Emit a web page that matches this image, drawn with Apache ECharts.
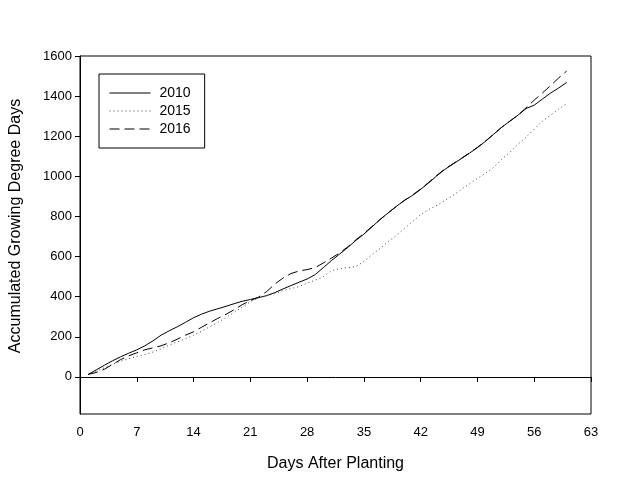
<!DOCTYPE html>
<html>
<head>
<meta charset="utf-8">
<script src="https://cdn.jsdelivr.net/npm/echarts@6/dist/echarts.min.js"></script>
<style>html,body{margin:0;padding:0;background:#fff;}#c{width:640px;height:478px;}</style>
</head>
<body>
<div id="c"></div>
<script>
var days = [];
for (var d = 1; d <= 60; d++) days.push(d);
var xTicks = [0, 7, 14, 21, 28, 35, 42, 49, 56, 63];
var yTicks = [0, 200, 400, 600, 800, 1000, 1200, 1400, 1600];
var names = ['2010', '2015', '2016'];
var gdd2010 = [12,35,58,80,100,118,135,155,180,208,230,250,272,295,313,328,340,352,365,377,386,395,405,420,438,455,472,488,510,545,580,612,645,680,712,748,785,818,850,880,905,935,968,1003,1035,1062,1088,1115,1143,1175,1210,1245,1275,1305,1338,1355,1385,1415,1440,1468];
var gdd2015 = [12,28,45,62,78,90,102,112,124,140,158,175,190,208,228,250,272,296,322,348,375,395,405,415,430,440,450,468,482,500,530,540,545,550,575,610,640,675,705,740,775,810,835,855,880,905,935,962,990,1015,1045,1085,1120,1160,1195,1235,1275,1305,1335,1363];
var gdd2016 = [12,22,38,62,86,105,120,135,145,155,170,188,208,225,248,270,292,312,335,360,380,398,425,462,492,515,528,535,545,568,592,618,648,683,715,750,785,818,850,880,907,937,970,1005,1037,1063,1089,1116,1145,1176,1210,1245,1275,1305,1342,1380,1415,1452,1490,1525];

function pairs(arr) { return days.map(function (d, i) { return [d, arr[i]]; }); }

var chart = echarts.init(document.getElementById('c'), null, {renderer: 'canvas'});
var font = 'Liberation Sans, Arial, sans-serif';
chart.setOption({
  animation: false,
  backgroundColor: '#fff',
  grid: {left: 80, right: 49, top: 56, bottom: 64, show: true, borderColor: '#000', borderWidth: 1, backgroundColor: 'transparent'},
  legend: {
    orient: 'vertical', left: 99, top: 74,
    padding: [12, 14, 12, 10],
    itemWidth: 41, itemHeight: 14, itemGap: 4,
    borderColor: '#000', borderWidth: 1, backgroundColor: '#fff',
    itemStyle: {opacity: 0},
    lineStyle: {width: 1},
    data: names,
    textStyle: {fontFamily: font, fontSize: 14, color: '#000', padding: [0, 0, 0, 4]}
  },
  xAxis: {
    type: 'value', min: 0, max: 63, interval: 7,
    name: 'Days After Planting', nameLocation: 'middle', nameGap: 42,
    nameTextStyle: {fontFamily: font, fontSize: 16, color: '#000'},
    axisLine: {show: true, lineStyle: {color: '#000', width: 1}},
    axisTick: {show: true, inside: false, length: 5, lineStyle: {color: '#000'}},
    axisLabel: {fontFamily: font, fontSize: 13, color: '#000', margin: 12, customValues: xTicks},
    splitLine: {show: false}
  },
  yAxis: {
    type: 'value', min: -185, max: 1600,
    axisLine: {show: true, lineStyle: {color: '#000', width: 1}},
    axisTick: {show: true, inside: false, length: 5, lineStyle: {color: '#000'}, customValues: yTicks},
    axisLabel: {fontFamily: font, fontSize: 13, color: '#000', margin: 8, customValues: yTicks,
      formatter: function (v) { return String(v); }},
    splitLine: {show: false}
  },
  graphic: [{
    type: 'text', x: 16, y: 226, rotation: Math.PI / 2,
    style: {text: 'Accumulated Growing Degree Days', font: '16px Liberation Sans, Arial, sans-serif', fill: '#000', align: 'center', verticalAlign: 'middle'}
  }],
  series: [
    {name: names[0], type: 'line', data: pairs(gdd2010), symbol: 'none', lineStyle: {color: '#000', width: 1, type: 'solid'}, itemStyle: {color: '#000'}},
    {name: names[1], type: 'line', data: pairs(gdd2015), symbol: 'none', lineStyle: {color: '#444', width: 1, type: [1, 3]}, itemStyle: {color: '#444'}},
    {name: names[2], type: 'line', data: pairs(gdd2016), symbol: 'none', lineStyle: {color: '#000', width: 1, type: [10, 5]}, itemStyle: {color: '#000'}}
  ]
});
</script>
</body>
</html>
